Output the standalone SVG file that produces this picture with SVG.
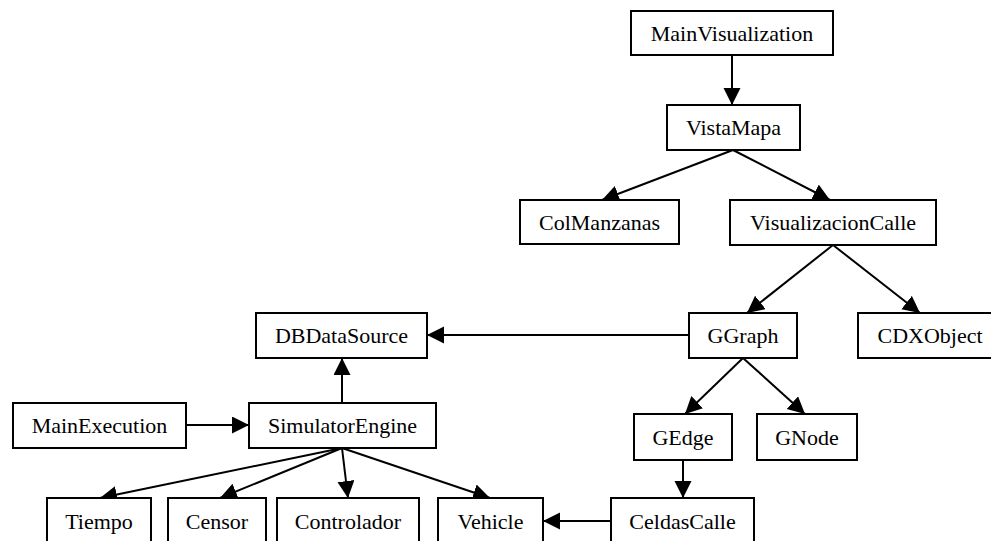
<svg xmlns="http://www.w3.org/2000/svg" width="991" height="541" viewBox="0 0 991 541">
  <style>
    .box { fill: #ffffff; stroke: #000000; stroke-width: 2; }
    .lbl { font-family: "Liberation Serif", "Times New Roman", serif; font-size: 22px; fill: #000000; text-anchor: middle; }
    .edge { stroke: #000000; stroke-width: 2; fill: none; marker-end: url(#head); }
  </style>
  <defs>
    <marker id="head" markerUnits="userSpaceOnUse" markerWidth="18" markerHeight="18" refX="17" refY="8.5" orient="auto">
      <path d="M0,0 L17,8.5 L0,17 z" fill="#000000"/>
    </marker>
  </defs>
  <rect width="991" height="541" fill="#ffffff"/>

  <g id="connectors">
    <line class="edge" x1="732" y1="55" x2="732" y2="105"/>
    <line class="edge" x1="733" y1="150" x2="602" y2="200"/>
    <line class="edge" x1="733" y1="150" x2="830" y2="200"/>
    <line class="edge" x1="833" y1="245" x2="747" y2="313"/>
    <line class="edge" x1="833" y1="245" x2="920" y2="313"/>
    <line class="edge" x1="689" y1="335" x2="427" y2="335"/>
    <line class="edge" x1="743" y1="358" x2="685" y2="414"/>
    <line class="edge" x1="743" y1="358" x2="805" y2="414"/>
    <line class="edge" x1="683" y1="460" x2="683" y2="498"/>
    <line class="edge" x1="611" y1="521" x2="543" y2="521"/>
    <line class="edge" x1="342" y1="403" x2="342" y2="358"/>
    <line class="edge" x1="186" y1="425" x2="249" y2="425"/>
    <line class="edge" x1="342" y1="448" x2="100" y2="498"/>
    <line class="edge" x1="342" y1="448" x2="220" y2="498"/>
    <line class="edge" x1="342" y1="448" x2="348" y2="498"/>
    <line class="edge" x1="342" y1="448" x2="490" y2="498"/>
  </g>

  <g id="MainVisualization">
    <rect class="box" x="631" y="11" width="202" height="44"/>
    <text class="lbl" x="732" y="41">MainVisualization</text>
  </g>
  <g id="VistaMapa">
    <rect class="box" x="667" y="105" width="133" height="45"/>
    <text class="lbl" x="733.5" y="135">VistaMapa</text>
  </g>
  <g id="ColManzanas">
    <rect class="box" x="520" y="200" width="159" height="44"/>
    <text class="lbl" x="599.5" y="230">ColManzanas</text>
  </g>
  <g id="VisualizacionCalle">
    <rect class="box" x="730" y="200" width="206" height="45"/>
    <text class="lbl" x="833" y="230">VisualizacionCalle</text>
  </g>
  <g id="DBDataSource">
    <rect class="box" x="256" y="313" width="171" height="45"/>
    <text class="lbl" x="341.5" y="343">DBDataSource</text>
  </g>
  <g id="GGraph">
    <rect class="box" x="689" y="313" width="108" height="45"/>
    <text class="lbl" x="743" y="343">GGraph</text>
  </g>
  <g id="CDXObject">
    <rect class="box" x="858" y="313" width="140" height="45"/>
    <text class="lbl" x="930" y="343">CDXObject</text>
  </g>
  <g id="MainExecution">
    <rect class="box" x="13" y="403" width="173" height="45"/>
    <text class="lbl" x="99.5" y="433">MainExecution</text>
  </g>
  <g id="SimulatorEngine">
    <rect class="box" x="249" y="403" width="187" height="45"/>
    <text class="lbl" x="342.5" y="433">SimulatorEngine</text>
  </g>
  <g id="GEdge">
    <rect class="box" x="634" y="414" width="98" height="46"/>
    <text class="lbl" x="683" y="444.5">GEdge</text>
  </g>
  <g id="GNode">
    <rect class="box" x="757" y="414" width="100" height="46"/>
    <text class="lbl" x="807" y="444.5">GNode</text>
  </g>
  <g id="Tiempo">
    <rect class="box" x="47" y="498" width="104" height="50"/>
    <text class="lbl" x="99" y="529">Tiempo</text>
  </g>
  <g id="Censor">
    <rect class="box" x="168" y="498" width="98" height="50"/>
    <text class="lbl" x="217" y="529">Censor</text>
  </g>
  <g id="Controlador">
    <rect class="box" x="277" y="498" width="142" height="50"/>
    <text class="lbl" x="348" y="529">Controlador</text>
  </g>
  <g id="Vehicle">
    <rect class="box" x="438" y="498" width="105" height="50"/>
    <text class="lbl" x="490.5" y="529">Vehicle</text>
  </g>
  <g id="CeldasCalle">
    <rect class="box" x="611" y="498" width="143" height="50"/>
    <text class="lbl" x="682.5" y="529">CeldasCalle</text>
  </g>
</svg>
